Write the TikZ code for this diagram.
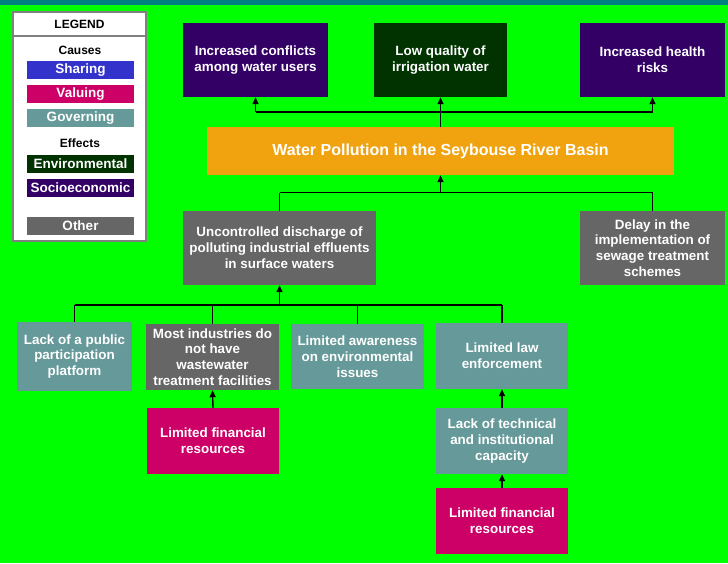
\documentclass[tikz,border=0pt]{standalone}
\usepackage{fontspec}
\setmainfont{Liberation Sans}
\usetikzlibrary{arrows.meta}
\definecolor{bggreen}{HTML}{00FF00}
\definecolor{topteal}{HTML}{008080}
\definecolor{cshare}{HTML}{3333CC}
\definecolor{cvalue}{HTML}{CC0066}
\definecolor{cgov}{HTML}{669999}
\definecolor{cenv}{HTML}{003300}
\definecolor{csoc}{HTML}{330066}
\definecolor{cother}{HTML}{666666}
\definecolor{corange}{HTML}{F0A30F}
\definecolor{cborder}{HTML}{808080}
\tikzset{
  box/.style={rectangle, inner sep=0pt, align=center, text=white,
    font=\bfseries\fontsize{13.4}{15.8}\selectfont},
  legbtn/.style={rectangle, inner sep=0pt, text=white, minimum width=107pt, minimum height=18pt,
    font=\bfseries\fontsize{13.5}{15}\selectfont},
  legtxt/.style={inner sep=0pt, text=black, font=\bfseries\fontsize{12}{14}\selectfont},
  arr/.style={draw=black, line width=1.4pt, -{Triangle[length=7pt,width=6pt]}},
  ln/.style={draw=black, line width=1.4pt}
}
\begin{document}
\begin{tikzpicture}[x=1pt,y=-1pt]
\fill[bggreen] (0,0) rectangle (728,563);
\fill[topteal] (0,0) rectangle (728,5);
\useasboundingbox (0,0) rectangle (728,563);

% Legend
\draw[cborder, fill=white, line width=1.4pt] (13,12) rectangle (146,241);
\draw[cborder, line width=1.4pt] (13,36) -- (146,36);
\node[legtxt] (legend) at (79.5,24) {LEGEND};
\node[legtxt] (causes) at (80,50) {Causes};
\node[legbtn, fill=cshare] (lsh) at (80.5,70) {Sharing};
\node[legbtn, fill=cvalue] (lval) at (80.5,94) {Valuing};
\node[legbtn, fill=cgov] (lgov) at (80.5,118) {Governing};
\node[legtxt] (effects) at (80,143) {Effects};
\node[legbtn, fill=cenv] (lenv) at (80.5,164) {Environmental};
\node[legbtn, fill=csoc] (lsoc) at (80.5,188) {Socioeconomic};
\node[legbtn, fill=cother] (loth) at (80.5,226) {Other};

% Effects
\node[box, fill=csoc, minimum width=145pt, minimum height=74pt] (c1) at (255.5,60) {Increased conflicts\\among water users};
\node[box, fill=cenv, minimum width=133pt, minimum height=74pt] (c2) at (440.5,60) {Low quality of\\irrigation water};
\node[box, fill=csoc, minimum width=145pt, minimum height=74pt] (c3) at (652.5,60) {Increased health\\risks};

% Main problem
\node[box, fill=corange, minimum width=467pt, minimum height=48pt, font=\bfseries\fontsize{16}{19}\selectfont] (main) at (440.5,151) {Water Pollution in the Seybouse River Basin};

% Causes
\node[box, fill=cother, minimum width=193pt, minimum height=74pt] (u) at (279.5,248) {Uncontrolled discharge of\\polluting industrial effluents\\in surface waters};
\node[box, fill=cother, minimum width=145pt, minimum height=74pt] (delay) at (652.5,248) {Delay in the\\implementation of\\sewage treatment\\schemes};

\node[box, fill=cgov, minimum width=115pt, minimum height=69pt] (lp) at (74.5,356.5) {Lack of a public\\participation\\platform};
\node[box, fill=cother, minimum width=133pt, minimum height=66pt] (mi) at (212.5,357) {Most industries do\\not have\\wastewater\\treatment facilities};
\node[box, fill=cgov, minimum width=133pt, minimum height=65pt] (la) at (357.5,356.5) {Limited awareness\\on environmental\\issues};
\node[box, fill=cgov, minimum width=132pt, minimum height=66pt] (ll) at (502,356) {Limited law\\enforcement};

\node[box, fill=cvalue, minimum width=132pt, minimum height=66pt] (lf1) at (213,441) {Limited financial\\resources};
\node[box, fill=cgov, minimum width=132pt, minimum height=66pt] (lt) at (502,441) {Lack of technical\\and institutional\\capacity};
\node[box, fill=cvalue, minimum width=132pt, minimum height=66pt] (lf2) at (502,521) {Limited financial\\resources};

% Connectors: main -> effects
\coordinate (tj) at (440.5,112);
\draw[ln] (c1.south |- tj) -- (c3.south |- tj);
\draw[arr] (main.north) -- (c2.south);
\draw[arr] (c1.south |- tj) -- (c1.south);
\draw[arr] (c3.south |- tj) -- (c3.south);

% causes -> main
\coordinate (mj) at (440.5,192.5);
\draw[ln] (u.north |- mj) -- (delay.north |- mj);
\draw[ln] (u.north |- mj) -- (u.north);
\draw[ln] (delay.north |- mj) -- (delay.north);
\draw[arr] (mj) -- (main.south);

% sub-causes -> u
\coordinate (uj) at (279.5,305);
\draw[ln] (lp.north |- uj) -- (ll.north |- uj);
\draw[ln] (lp.north |- uj) -- (lp.north);
\draw[ln] (mi.north |- uj) -- (mi.north);
\draw[ln] (la.north |- uj) -- (la.north);
\draw[ln] (ll.north |- uj) -- (ll.north);
\draw[arr] (uj) -- (u.south);

% lower chains
\draw[arr] (lf1.north) -- (mi.south);
\draw[arr] (lt.north) -- (ll.south);
\draw[arr] (lf2.north) -- (lt.south);
\end{tikzpicture}
\end{document}
